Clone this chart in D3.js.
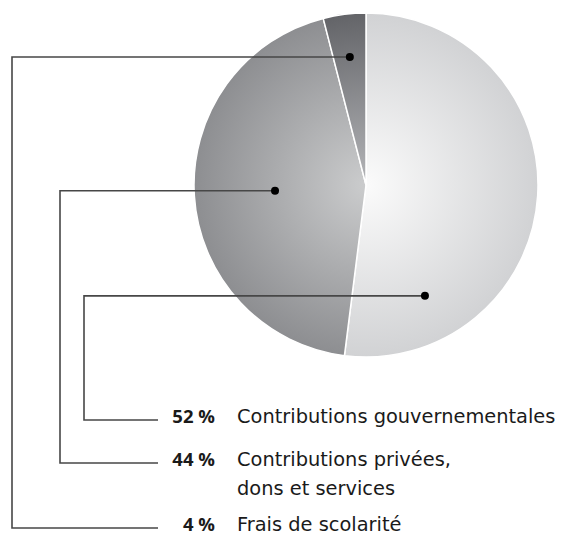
<!DOCTYPE html>
<html>
<head>
<meta charset="utf-8">
<script src="https://cdn.jsdelivr.net/npm/d3@7"></script>
<style>
  body { margin: 0; background: #fff; }
  text { fill: #1a1a1a; }
</style>
</head>
<body>
<div id="chart"></div>
<script>
'use strict'

const categories = ['Contributions gouvernementales', 'Contributions privées,|dons et services', 'Frais de scolarité']
const values = [52, 44, 4]
const valueLabels = ['52 %', '44 %', '4 %']

const width = 562
const height = 536
const cx = 366
const cy = 185
const radius = 172

// where each leader line starts inside its slice (angle in degrees, fraction of radius)
const anchorAngle = [152, null, null]
const anchorRadius = [0.73, 0.53, 0.75]
// leader routing: x of the vertical run and baseline of the label row
const elbowX = [84, 60, 12]
const rowY = [423, 466, 531]
const lineEndX = 158
const pctX = 215
const nameX = 237

const gradients = [
  ['#fbfbfb', '#d1d2d4'],
  ['#cbcccd', '#8d8e91'],
  ['#b4b5b8', '#636468']
]

const svg = d3.select('#chart')
  .append('svg')
  .attr('width', width)
  .attr('height', height)

const defs = svg.append('defs')
gradients.forEach((g, i) => {
  const rg = defs.append('radialGradient')
    .attr('id', 'g' + i)
    .attr('gradientUnits', 'userSpaceOnUse')
    .attr('cx', 0).attr('cy', 0).attr('r', radius)
  rg.append('stop').attr('offset', '0%').attr('stop-color', g[0])
  rg.append('stop').attr('offset', '100%').attr('stop-color', g[1])
})

const pie = d3.pie().sort(null).value(d => d)
const arcs = pie(values)
const arc = d3.arc().innerRadius(0).outerRadius(radius)

const g = svg.append('g').attr('transform', `translate(${cx},${cy})`)

g.selectAll('path')
  .data(arcs)
  .enter()
  .append('path')
  .attr('d', arc)
  .attr('fill', (d, i) => `url(#g${i})`)
  .attr('stroke', '#fff')
  .attr('stroke-width', 1.5)
  .attr('stroke-linejoin', 'round')

const anchors = arcs.map((d, i) => {
  const a = anchorAngle[i] != null ? anchorAngle[i] * Math.PI / 180 : (d.startAngle + d.endAngle) / 2
  const p = d3.pointRadial(a, anchorRadius[i] * radius)
  return [cx + p[0], cy + p[1]]
})

const lines = svg.append('g')
  .attr('fill', 'none')
  .attr('stroke', '#474747')
  .attr('stroke-width', 1.6)

lines.selectAll('path')
  .data(anchors)
  .enter()
  .append('path')
  .attr('d', (p, i) => d3.line()([p, [elbowX[i], p[1]], [elbowX[i], rowY[i] - 3], [lineEndX, rowY[i] - 3]]))

svg.selectAll('circle')
  .data(anchors)
  .enter()
  .append('circle')
  .attr('cx', p => p[0])
  .attr('cy', p => p[1])
  .attr('r', 4)
  .attr('fill', '#000')

const labels = svg.append('g')
valueLabels.forEach((v, i) => {
  labels.append('text')
    .attr('x', pctX)
    .attr('y', rowY[i])
    .attr('text-anchor', 'end')
    .attr('font-family', '"Open Sans", sans-serif')
    .attr('font-size', 18.5)
    .attr('font-weight', 700)
    .text(v)
  const t = labels.append('text')
    .attr('x', nameX)
    .attr('y', rowY[i])
    .attr('font-family', '"DejaVu Sans", sans-serif')
    .attr('font-size', 19.4)
  categories[i].split('|').forEach((s, j) => {
    t.append('tspan').attr('x', nameX).attr('dy', j ? 29 : 0).text(s)
  })
})
</script>
</body>
</html>
